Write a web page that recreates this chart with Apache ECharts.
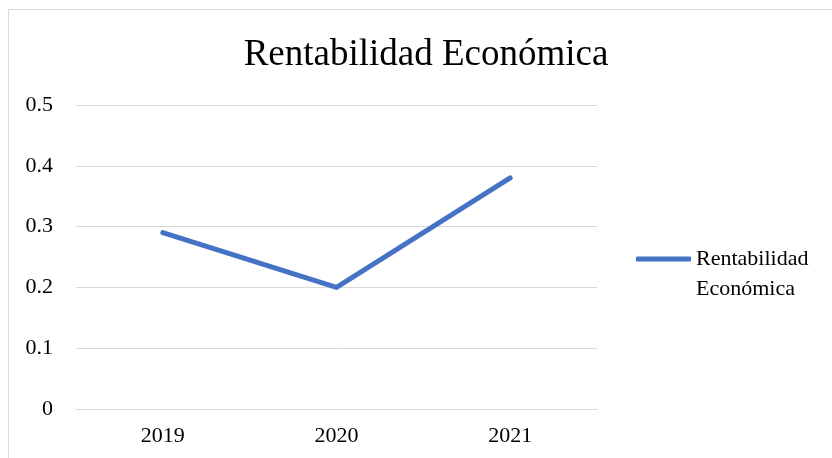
<!DOCTYPE html>
<html>
<head>
<meta charset="utf-8">
<script src="https://cdn.jsdelivr.net/npm/echarts@6/dist/echarts.min.js"></script>
<style>
  html, body { margin: 0; padding: 0; background: #fff; }
  #chart { width: 832px; height: 458px; }
</style>
</head>
<body>
<div id="chart"></div>
<script>
// Return on assets by year
const years = ['2019', '2020', '2021'];
const rentabilidad = [0.29, 0.20, 0.38];
const yTicks = { min: 0, max: 0.5, interval: 0.1 };
const seriesName = 'Rentabilidad Económica';

const serif = '"Liberation Serif", "Times New Roman", "DejaVu Serif", serif';
const gridGrey = '#d9d9d9';
const lineBlue = '#4472c4';

const chart = echarts.init(document.getElementById('chart'), null, { renderer: 'canvas' });
chart.setOption({
  animation: false,
  backgroundColor: '#ffffff',
  title: {
    text: seriesName,
    left: 421,
    textAlign: 'center',
    top: 32,
    textStyle: { fontFamily: serif, fontSize: 37, fontWeight: 'normal', color: '#000' }
  },
  graphic: [{
    type: 'rect',
    shape: { x: 8.5, y: 9.5, width: 900, height: 500 },
    style: { fill: 'none', stroke: gridGrey, lineWidth: 1 },
    silent: true
  }],
  legend: {
    left: 636,
    top: 214,
    padding: 0,
    orient: 'vertical',
    itemWidth: 55,
    itemHeight: 5,
    // leading blank line keeps the first text line level with the swatch
    formatter: () => '\u00a0\nRentabilidad\nEconómica',
    textStyle: { fontFamily: serif, fontSize: 22, color: '#000', lineHeight: 30 },
    data: [{ name: seriesName, icon: 'roundRect' }]
  },
  grid: { left: 76, right: 235, top: 105, bottom: 49, containLabel: false },
  xAxis: {
    type: 'category',
    data: years,
    boundaryGap: true,
    axisLine: { show: true, lineStyle: { color: gridGrey, width: 1 } },
    axisTick: { show: false },
    axisLabel: { fontFamily: serif, fontSize: 22, color: '#000', margin: 16 }
  },
  yAxis: {
    type: 'value',
    min: yTicks.min,
    max: yTicks.max,
    interval: yTicks.interval,
    axisLine: { show: false },
    axisTick: { show: false },
    splitLine: { lineStyle: { color: gridGrey, width: 1 } },
    axisLabel: {
      fontFamily: serif, fontSize: 22, color: '#000', margin: 23,
      formatter: v => (v === 0 ? '0' : String(Math.round(v * 10) / 10))
    }
  },
  series: [{
    name: seriesName,
    type: 'line',
    data: rentabilidad,
    symbol: 'none',
    lineStyle: { color: lineBlue, width: 5, cap: 'round', join: 'round' },
    itemStyle: { color: lineBlue }
  }]
});
</script>
</body>
</html>
